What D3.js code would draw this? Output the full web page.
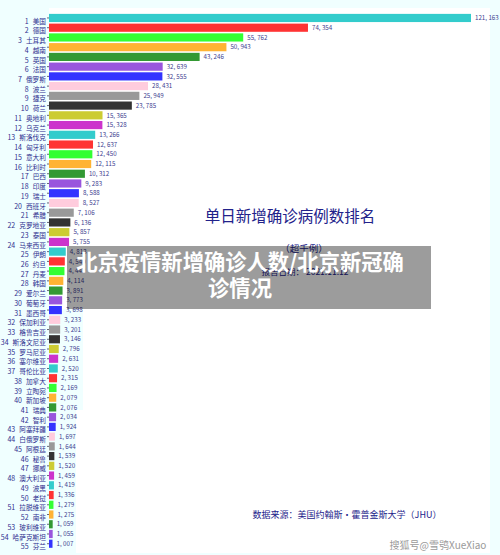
<!DOCTYPE html>
<html><head><meta charset="utf-8">
<script src="https://cdn.jsdelivr.net/npm/d3@7/dist/d3.min.js"></script>
<style>html,body{margin:0;padding:0;background:#f0ffff;}svg{display:block;}</style>
</head><body><svg id="c" width="500" height="555"></svg>
<script>
const countries=["美国","德国","土耳其","越南","英国","法国","俄罗斯","波兰","捷克","荷兰","奥地利","乌克兰","斯洛伐克","匈牙利","意大利","比利时","巴西","印度","瑞士","西班牙","希腊","克罗地亚","泰国","马来西亚","伊朗","约旦","丹麦","韩国","爱尔兰","葡萄牙","墨西哥","保加利亚","格鲁吉亚","斯洛文尼亚","罗马尼亚","塞尔维亚","哥伦比亚","加拿大","立陶宛","新加坡","瑞典","智利","阿塞拜疆","白俄罗斯","阿根廷","秘鲁","挪威","澳大利亚","波黑","老挝","拉脱维亚","南非","玻利维亚","哈萨克斯坦","芬兰"];
const cases=[121163,74354,55762,50943,43246,32639,32555,28431,25949,23785,15365,15328,13266,12637,12450,12115,10312,9283,8588,8527,7106,6136,5857,5755,4813,4540,4442,4114,3891,3773,3698,3233,3201,3146,2796,2631,2520,2315,2169,2079,2076,2034,1924,1697,1644,1539,1520,1459,1419,1336,1279,1275,1059,1055,1007];
const palette=["#33cccc","#ff3333","#33ff33","#ffb333","#339933","#9955dd","#3333ff","#ffccdd","#999999","#333333","#cccc33","#cc33cc"];
const title="单日新增确诊病例数排名";
const subtitle="（超千例）";
const dateLine="报告日期： 2021.11.12";
const source="数据来源：美国约翰斯・霍普金斯大学（JHU）";
const watermark="搜狐号@雪鸮XueXiao";
const overlayLines=["北京疫情新增确诊人数/北京新冠确","诊情况"];

const navy="#2f2f8f", font="'Noto Sans CJK SC','Noto Sans',sans-serif";
const svg=d3.select("#c");
svg.append("path").attr("d","M49 8H490V553H76V410H83V309H49Z").attr("fill","#fff");
svg.append("rect").attr("x",49).attr("y",8).attr("width",441).attr("height",301).attr("fill","#fff");
const x=d3.scaleLinear().domain([0,121163]).range([49,471]);
const y=d3.scaleBand().domain(d3.range(1,56)).range([13.1,548.6]).paddingInner(0.16).paddingOuter(0.08);
const fmt=v=>d3.format(",")(v).replace(",",", ");
const rows=svg.append("g").selectAll("g").data(cases).join("g");
rows.append("rect").attr("x",x(0)).attr("y",(d,i)=>y(i+1)).attr("width",d=>x(d)-x(0)).attr("height",y.bandwidth()).attr("fill",(d,i)=>palette[i%palette.length]);
rows.append("text").attr("x",d=>x(d)+4).attr("y",(d,i)=>y(i+1)+y.bandwidth()/2).attr("dy","0.35em").attr("font-size",6.2).attr("font-family",font).attr("fill","#3d3d8f").text(fmt);
const axis=svg.append("g").attr("transform",`translate(${x(0)},0)`).call(d3.axisLeft(y).tickSize(2).tickFormat(""));
axis.select(".domain").remove();
axis.selectAll("line").attr("stroke","#667");
const labels=svg.append("g").attr("font-family",font).attr("fill",navy);
const lab=labels.selectAll("text.c").data(countries).join("text").attr("class","c").attr("x",46).attr("text-anchor","end").attr("y",(d,i)=>y(i+1)+y.bandwidth()/2).attr("dy","0.35em");
lab.append("tspan").attr("font-size",7).text((d,i)=>i+1);
lab.append("tspan").attr("dx",4).attr("font-size",6.7).text(d=>d);
svg.append("text").attr("x",290).attr("y",222).attr("text-anchor","middle").attr("font-size",15.5).attr("font-family",font).attr("fill","#22228a").text(title);
svg.append("text").attr("x",304).attr("y",252).attr("text-anchor","middle").attr("font-size",9.5).attr("font-family",font).attr("fill","#22228a").text(subtitle);
svg.append("text").attr("x",305).attr("y",275).attr("text-anchor","middle").attr("font-size",8.5).attr("font-family",font).attr("fill","#22228a").text(dateLine);
svg.append("text").attr("x",347).attr("y",518).attr("text-anchor","middle").attr("font-size",9).attr("font-family",font).attr("fill","#22228a").text(source);
svg.append("text").attr("x",438).attr("y",549).attr("text-anchor","middle").attr("font-size",10).attr("font-family",font).attr("fill","#9a9a9a").text(watermark);
svg.append("rect").attr("x",67).attr("y",246).attr("width",364).attr("height",63).attr("fill","#000").attr("fill-opacity",0.39);
svg.selectAll("text.o").data(overlayLines).join("text").attr("class","o").attr("x",240).attr("y",(d,i)=>270+i*26).attr("text-anchor","middle").attr("font-size",21.3).attr("font-weight",700).attr("font-family",font).attr("fill","#fff").text(d=>d);
</script></body></html>
